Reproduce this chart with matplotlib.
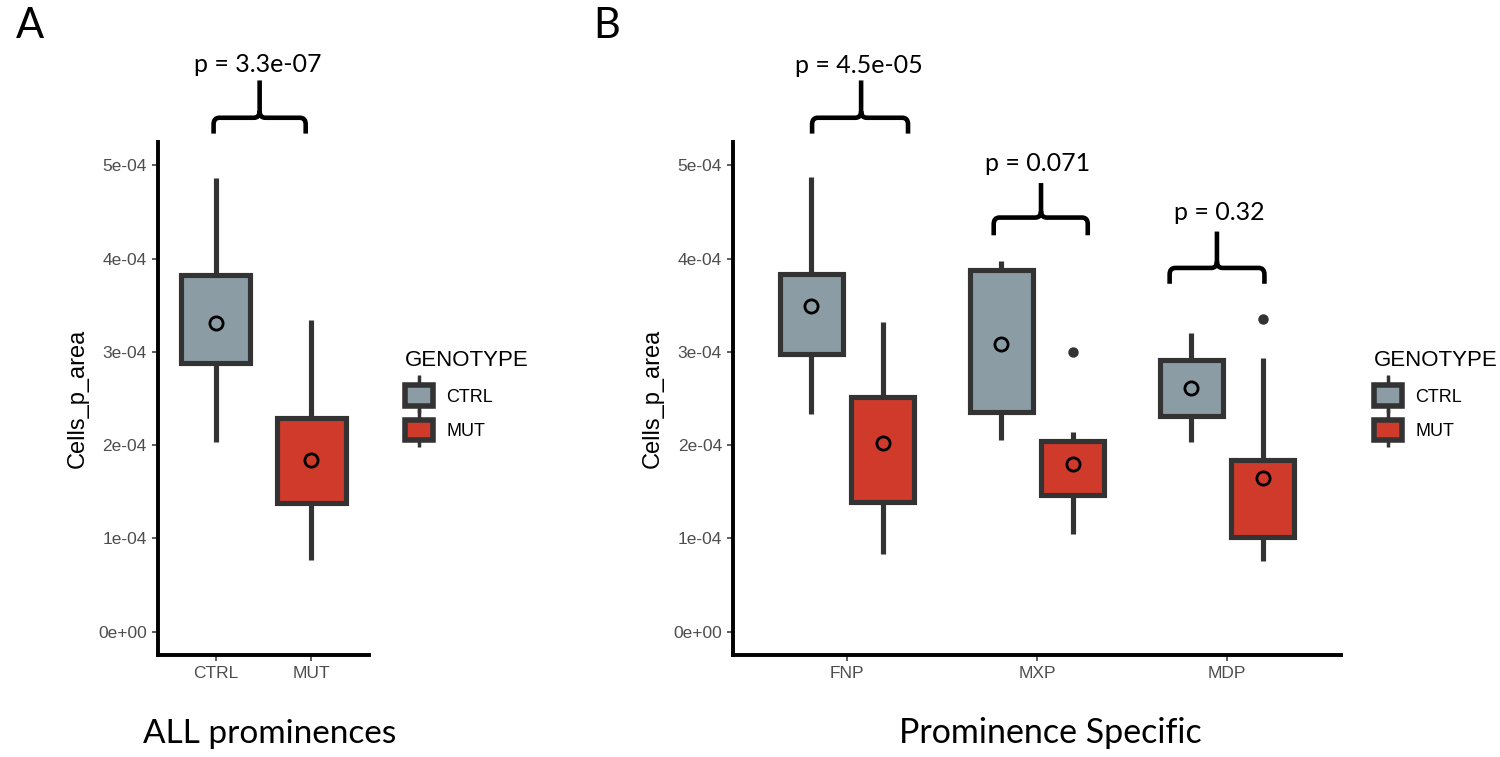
'''
cells per area, CTRL vs MUT boxplots
'''

import numpy as np
import matplotlib.pyplot as plt
from matplotlib.lines import Line2D
from matplotlib.patches import Patch, PathPatch
from matplotlib.path import Path
from matplotlib.legend_handler import HandlerTuple

# ---- data ----
genotypes = ['CTRL', 'MUT']
genotype_colors = ['#8B9CA4', '#CF3A2B']

# panel A: all prominences pooled
all_whislo = [2.03e-4, 0.77e-4]
all_q1 = [2.88e-4, 1.38e-4]
all_q3 = [3.82e-4, 2.29e-4]
all_whishi = [4.86e-4, 3.34e-4]
all_mean = [3.31e-4, 1.84e-4]
all_out = [[], []]

# panel B: per prominence
prominences = ['FNP', 'MXP', 'MDP']
ctrl_whislo = [2.33e-4, 2.05e-4, 2.03e-4]
ctrl_q1 = [2.98e-4, 2.36e-4, 2.31e-4]
ctrl_q3 = [3.84e-4, 3.88e-4, 2.91e-4]
ctrl_whishi = [4.87e-4, 3.97e-4, 3.20e-4]
ctrl_mean = [3.49e-4, 3.08e-4, 2.61e-4]
ctrl_out = [[], [], []]

mut_whislo = [0.83e-4, 1.05e-4, 0.76e-4]
mut_q1 = [1.39e-4, 1.47e-4, 1.02e-4]
mut_q3 = [2.52e-4, 2.04e-4, 1.84e-4]
mut_whishi = [3.32e-4, 2.14e-4, 2.93e-4]
mut_mean = [2.02e-4, 1.80e-4, 1.65e-4]
mut_out = [[], [3.00e-4], [3.35e-4]]

yticks = [0, 1e-4, 2e-4, 3e-4, 4e-4, 5e-4]
ytick_labels = ['0e+00', '1e-04', '2e-04', '3e-04', '4e-04', '5e-04']

pvals_A = ['p = 3.3e-07']
pvals_B = ['p = 4.5e-05', 'p = 0.071', 'p = 0.32']

EDGE = '#333333'
TICKCOL = '#4D4D4D'
SANS = 'Liberation Sans'
HUMAN = ['Lato', 'DejaVu Sans']

fig = plt.figure(figsize=(15, 7.57), dpi=100)


def make_stats(lo, q1, q3, hi, mean, out):
	stats = []
	for i in range(len(lo)):
		stats.append(dict(med=q1[i], q1=q1[i], q3=q3[i], whislo=lo[i],
						  whishi=hi[i], mean=mean[i], fliers=out[i]))
	return stats


def draw_boxes(ax, stats, positions, width, colors):
	bp = ax.bxp(stats, positions=positions, widths=width, patch_artist=True,
				showmeans=True, showcaps=False, manage_ticks=False,
				boxprops=dict(edgecolor=EDGE, linewidth=3.7),
				whiskerprops=dict(color=EDGE, linewidth=3.7, solid_capstyle='butt'),
				medianprops=dict(linewidth=0),
				meanprops=dict(marker='o', markeredgecolor='black',
							   markersize=9.5, markeredgewidth=2),
				flierprops=dict(marker='o', markerfacecolor=EDGE,
								markeredgecolor=EDGE, markersize=6.5))
	for box, mean, c in zip(bp['boxes'], bp['means'], colors):
		box.set_facecolor(c)
		mean.set_markerfacecolor(c)
	return bp


def style_axes(ax, cats, ncat):
	ax.set_xlim(0.4, ncat + 0.6)
	ax.set_ylim(-0.25e-4, 5.25e-4)
	for s in ['top', 'right']:
		ax.spines[s].set_visible(False)
	for s in ['left', 'bottom']:
		ax.spines[s].set_linewidth(2.8)
		ax.spines[s].set_capstyle('projecting')
	ax.set_xticks(np.arange(1, ncat + 1))
	ax.set_xticklabels(cats)
	ax.set_yticks(yticks)
	ax.set_yticklabels(ytick_labels)
	ax.tick_params(length=4.5, width=1.1, color=EDGE, labelcolor=TICKCOL,
				   labelsize=12.5, pad=3.5)
	for lab in ax.get_xticklabels() + ax.get_yticklabels():
		lab.set_family(SANS)
	ax.set_ylabel('Cells_p_area', fontsize=17, family=SANS, labelpad=7)


def brace(ax, x0, x1, xs, y_end, y_h, y_top, rx, ry):
	# curly bracket: two ends hanging down, stem pointing up
	verts = [(x0, y_end), (x0, y_h - ry), (x0, y_h), (x0 + rx, y_h),
			 (xs - rx, y_h), (xs, y_h), (xs, y_h + ry), (xs, y_top)]
	codes = [Path.MOVETO, Path.LINETO, Path.CURVE3, Path.CURVE3,
			 Path.LINETO, Path.CURVE3, Path.CURVE3, Path.LINETO]
	verts2 = [(x1, y_end), (x1, y_h - ry), (x1, y_h), (x1 - rx, y_h),
			  (xs + rx, y_h), (xs, y_h), (xs, y_h + ry)]
	codes2 = [Path.MOVETO, Path.LINETO, Path.CURVE3, Path.CURVE3,
			  Path.LINETO, Path.CURVE3, Path.CURVE3]
	p = Path(verts + verts2, codes + codes2)
	ax.add_patch(PathPatch(p, fill=False, edgecolor='black', linewidth=3.3,
						   clip_on=False, capstyle='butt', joinstyle='round'))


def add_legend(x, y):
	handles = []
	for c in genotype_colors:
		stem = Line2D([], [], linestyle='none', marker='|', markersize=27,
					  markeredgewidth=2.5, color=EDGE)
		key = Patch(facecolor=c, edgecolor=EDGE, linewidth=4.0, joinstyle='round')
		handles.append((stem, key))
	leg = fig.legend(handles, genotypes, loc='upper left', bbox_to_anchor=(x, y),
					 handler_map={tuple: HandlerTuple(ndivide=1)},
					 frameon=False, title='GENOTYPE', alignment='left',
					 prop=dict(family=SANS, size=13),
					 title_fontproperties=dict(family=SANS, size=16),
					 handlelength=1.55, handleheight=1.35, handletextpad=0.75,
					 labelspacing=0.8, borderpad=0, borderaxespad=0)
	return leg


# ---- panel A ----
axA = fig.add_axes([0.1053, 0.1347, 0.1407, 0.6777])
statsA = make_stats(all_whislo, all_q1, all_q3, all_whishi, all_mean, all_out)
draw_boxes(axA, statsA, [1, 2], 0.72, genotype_colors)
style_axes(axA, genotypes, 2)
brace(axA, 0.98, 1.94, 1.46, 5.34e-4, 5.51e-4, 5.91e-4, 0.06, 0.07e-4)
axA.text(1.44, 6.0e-4, pvals_A[0], ha='center', va='baseline', fontsize=18,
		 family=HUMAN, clip_on=False)

# ---- panel B ----
axB = fig.add_axes([0.4887, 0.1347, 0.4053, 0.6777])
pos = np.arange(1, len(prominences) + 1)
statsC = make_stats(ctrl_whislo, ctrl_q1, ctrl_q3, ctrl_whishi, ctrl_mean, ctrl_out)
statsM = make_stats(mut_whislo, mut_q1, mut_q3, mut_whishi, mut_mean, mut_out)
draw_boxes(axB, statsC, pos - 0.1875, 0.33, [genotype_colors[0]] * 3)
draw_boxes(axB, statsM, pos + 0.1875, 0.33, [genotype_colors[1]] * 3)
style_axes(axB, prominences, 3)

# bracket placement (x in category units, y in data units)
br_x0 = [0.816, 1.772, 2.698]
br_x1 = [1.321, 2.267, 3.197]
br_xs = [1.074, 2.021, 2.947]
br_end = [5.34e-4, 4.25e-4, 3.73e-4]
br_h = [5.51e-4, 4.44e-4, 3.90e-4]
br_top = [5.91e-4, 4.81e-4, 4.29e-4]
txt_x = [1.063, 2.005, 2.96]
txt_y = [5.99e-4, 4.94e-4, 4.41e-4]
for i in range(3):
	brace(axB, br_x0[i], br_x1[i], br_xs[i], br_end[i], br_h[i], br_top[i],
		  0.03, 0.07e-4)
	axB.text(txt_x[i], txt_y[i], pvals_B[i], ha='center', va='baseline',
			 fontsize=18, family=HUMAN, clip_on=False)

# ---- legends, panel letters, captions ----
add_legend(405 / 1500, 1 - 350 / 757)
add_legend(1374 / 1500, 1 - 350 / 757)

fig.text(16 / 1500, 1 - 38 / 757, 'A', fontsize=30, family=HUMAN, va='baseline')
fig.text(593 / 1500, 1 - 38 / 757, 'B', fontsize=30, family=HUMAN, va='baseline')
fig.text(270 / 1500, 1 - 743 / 757, 'ALL prominences', fontsize=24,
		 family=HUMAN, ha='center', va='baseline')
fig.text(1050 / 1500, 1 - 743 / 757, 'Prominence Specific', fontsize=24.5,
		 family=HUMAN, ha='center', va='baseline')

plt.savefig('out.png', dpi=100)
